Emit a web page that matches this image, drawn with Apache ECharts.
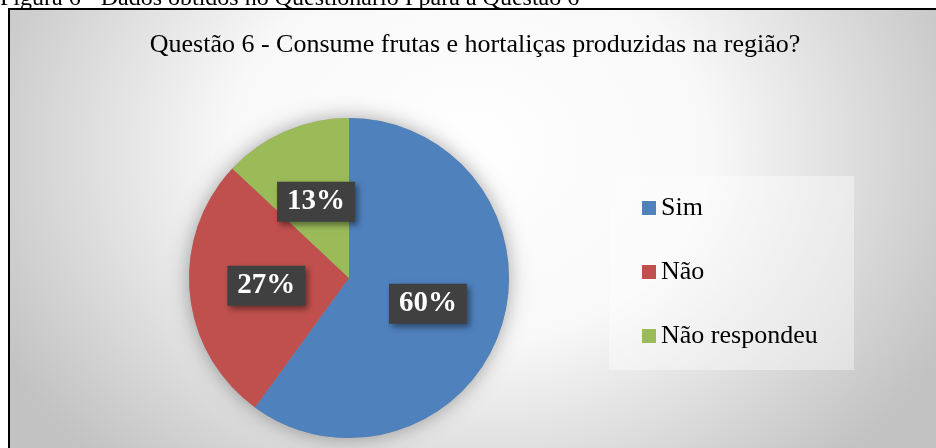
<!DOCTYPE html>
<html lang="pt">
  <head>
    <meta charset="UTF-8" />
    <title>Questão 6</title>
    <script src="https://cdn.jsdelivr.net/npm/echarts@6/dist/echarts.min.js"></script>
  </head>
  <style>
    html,
    body {
      margin: 0;
      padding: 0;
      width: 100%;
      height: 100%;
      background: #fff;
      overflow: hidden;
    }
    #echart {
      width: 936px;
      height: 448px;
    }
  </style>
  <body>
    <div id="echart"></div>
  </body>
  <script>
    const caption = "Figura 6 - Dados obtidos no Questionário I para a Questão 6";
    const chartTitle = "Questão 6 - Consume frutas e hortaliças produzidas na região?";
    const categories = ["Sim", "Não", "Não respondeu"];
    const values = [60, 27, 13];
    const colors = ["#4F81BD", "#C0504D", "#9BBB59"];

    const serif = "'Liberation Serif', 'Times New Roman', serif";
    const chart = echarts.init(document.getElementById("echart"));

    const pieData = categories.map((name, i) => ({
      name: name,
      value: values[i],
      itemStyle: { color: colors[i] },
    }));

    var option = {
      animation: false,
      title: {
        text: chartTitle,
        left: 475,
        textAlign: "center",
        top: 32,
        padding: 0,
        textStyle: {
          fontFamily: serif,
          fontSize: 26,
          fontWeight: "normal",
          color: "#000",
        },
      },
      legend: {
        data: categories,
        orient: "vertical",
        left: 642,
        top: 195,
        padding: 0,
        itemWidth: 14,
        itemHeight: 14,
        itemGap: 38,
        icon: "rect",
        textStyle: {
          fontFamily: serif,
          fontSize: 26,
          lineHeight: 26,
          color: "#000",
        },
      },
      graphic: [
        {
          // fundo com degradê radial (elíptico)
          type: "rect",
          x: 9,
          y: 9,
          scaleY: 0.808,
          z: -20,
          silent: true,
          shape: { x: 0, y: 0, width: 940, height: 557 },
          style: {
            fill: new echarts.graphic.RadialGradient(0.49, 0.313, 0.96, [
              { offset: 0, color: "#ffffff" },
              { offset: 0.45, color: "#f8f8f8" },
              { offset: 1, color: "#c2c2c2" },
            ]),
          },
        },
        {
          type: "rect",
          z: -19,
          silent: true,
          shape: { x: 9, y: 9, width: 960, height: 460 },
          style: { fill: "none", stroke: "#000", lineWidth: 2 },
        },
        {
          // caixa da legenda
          type: "rect",
          z: -18,
          silent: true,
          shape: { x: 609, y: 176, width: 245, height: 194 },
          style: { fill: "rgba(255,255,255,0.4)" },
        },
        {
          type: "text",
          z: -18,
          silent: true,
          style: {
            text: caption,
            x: 0,
            y: 11,
            verticalAlign: "bottom",
            font: "24px " + serif,
            fill: "#000",
          },
        },
      ],
      series: [
        {
          name: "Questão 6",
          type: "pie",
          z: 3,
          center: [349, 278],
          radius: 160,
          startAngle: 90,
          clockwise: true,
          data: pieData,
          label: {
            show: true,
            position: "inside",
            formatter: (p) => Math.round(p.percent) + "%",
            fontFamily: serif,
            fontWeight: "bold",
            fontSize: 29,
            lineHeight: 28,
            color: "#fff",
            backgroundColor: "#404040",
            padding: [6, 10],
            shadowColor: "rgba(0,0,0,0.45)",
            shadowBlur: 6,
            shadowOffsetX: 3,
            shadowOffsetY: 3,
          },
          labelLine: { show: false },
        },
        {
          // sombra externa da pizza
          type: "pie",
          z: 1,
          silent: true,
          center: [349, 278],
          radius: 160,
          startAngle: 90,
          data: values,
          label: { show: false },
          labelLine: { show: false },
          itemStyle: {
            color: "#999",
            shadowColor: "rgba(0,0,0,0.35)",
            shadowBlur: 20,
          },
        },
      ],
    };

    chart.setOption(option);
  </script>
</html>
